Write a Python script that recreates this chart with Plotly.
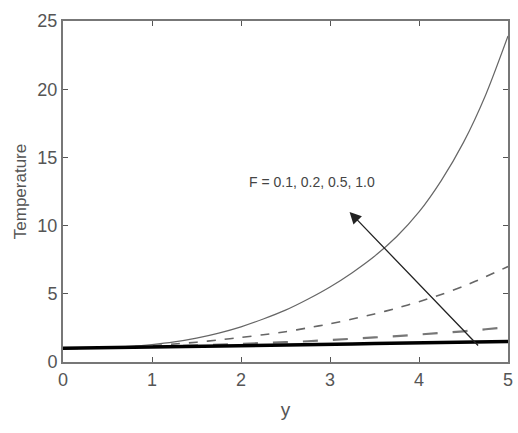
import plotly.graph_objects as go

y_vals = [0, 0.25, 0.5, 0.75, 1, 1.25, 1.5, 1.75, 2, 2.25, 2.5, 2.75, 3, 3.25, 3.5, 3.75, 4, 4.25, 4.5, 4.75, 5]
T_F1 = [1.0, 1.02, 1.07, 1.15, 1.28, 1.47, 1.75, 2.12, 2.58, 3.15, 3.8, 4.6, 5.5, 6.55, 7.75, 9.2, 11.0, 13.3, 16.1, 19.6, 23.9]
T_F2 = [1.0, 1.02, 1.05, 1.12, 1.2, 1.32, 1.45, 1.62, 1.8, 2.0, 2.22, 2.5, 2.8, 3.15, 3.52, 3.95, 4.42, 4.95, 5.55, 6.25, 7.0]
T_F3 = [1.0, 1.01, 1.03, 1.06, 1.1, 1.15, 1.2, 1.25, 1.3, 1.37, 1.45, 1.52, 1.6, 1.7, 1.8, 1.9, 2.0, 2.12, 2.25, 2.4, 2.55]
T_F4 = [1.0, 1.02, 1.05, 1.07, 1.1, 1.12, 1.15, 1.17, 1.2, 1.22, 1.25, 1.27, 1.3, 1.32, 1.35, 1.37, 1.4, 1.42, 1.45, 1.47, 1.5]
label_text = "F = 0.1, 0.2, 0.5, 1.0"
x_ticks = [0, 1, 2, 3, 4, 5]
y_ticks = [0, 5, 10, 15, 20, 25]

fig = go.Figure()
fig.add_trace(go.Scatter(x=y_vals, y=T_F1, mode="lines", line=dict(color="#666666", width=1.2, shape="spline", smoothing=0.8)))
fig.add_trace(go.Scatter(x=y_vals, y=T_F2, mode="lines", line=dict(color="#666666", width=1.6, dash="dash", shape="spline", smoothing=0.8)))
fig.add_trace(go.Scatter(x=y_vals, y=T_F3, mode="lines", line=dict(color="#777777", width=2.2, dash="longdash")))
fig.add_trace(go.Scatter(x=y_vals, y=T_F4, mode="lines", line=dict(color="#000000", width=3.5)))

fig.add_annotation(x=3.22, y=11.0, ax=4.68, ay=1.1, xref="x", yref="y", axref="x", ayref="y",
                   text="", showarrow=True, arrowhead=2, arrowsize=1.8, arrowwidth=1.3, arrowcolor="#222222")
fig.add_annotation(x=2.07, y=13.2, xref="x", yref="y", text=label_text, showarrow=False, xanchor="left",
                   font=dict(size=14, color="#444444", family="Liberation Sans, Arial"))

axis_common = dict(showgrid=False, zeroline=False, showline=True, linecolor="#777777", linewidth=2,
                   mirror="ticks", ticks="inside", ticklen=5, tickcolor="#555555",
                   tickfont=dict(size=18, color="#555555", family="Liberation Sans, Arial"))
fig.update_xaxes(range=[0, 5], tickvals=x_ticks, title=dict(text="y", font=dict(size=19, color="#555555"), standoff=14), **axis_common)
fig.update_yaxes(range=[0, 25], tickvals=y_ticks, title=dict(text="Temperature", font=dict(size=17, color="#555555"), standoff=6), **axis_common)

fig.update_layout(width=518, height=433, margin=dict(l=63, r=5, t=21, b=71),
                  plot_bgcolor="white", paper_bgcolor="white", showlegend=False,
                  font=dict(family="Liberation Sans, Arial"))
fig.write_html("out.html", config={"displayModeBar": False},
               post_script="document.body.style.margin='0';document.body.style.overflow='hidden';")
